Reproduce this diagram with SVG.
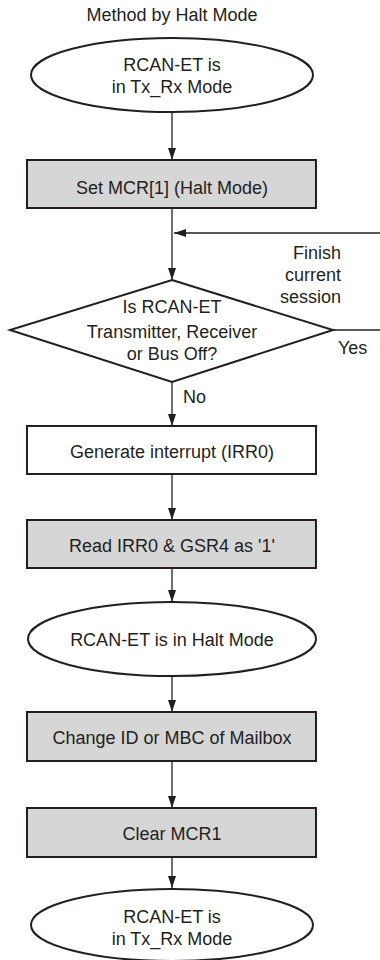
<svg xmlns="http://www.w3.org/2000/svg" width="380" height="960" viewBox="0 0 380 960">
<style>
text{font-family:"Liberation Sans",Arial,sans-serif;font-size:18px;fill:#231f20;text-anchor:middle}
.n{stroke:#231f20;stroke-width:2}
.g{fill:#d6d6d6}
.w{fill:#fff}
.c{stroke:#231f20;stroke-width:1.3;fill:none}
</style>
<defs>
<marker id="ah" viewBox="0 0 12 8" refX="12" refY="4" markerWidth="12" markerHeight="8" markerUnits="userSpaceOnUse" orient="auto">
<path d="M0,0 L12,4 L0,8 Z" fill="#231f20"/>
</marker>
</defs>
<rect width="380" height="960" fill="#fff"/>
<text x="172" y="21">Method by Halt Mode</text>
<g id="connectors">
<line class="c" x1="172" y1="112" x2="172" y2="160" marker-end="url(#ah)"/>
<line class="c" x1="172" y1="208" x2="172" y2="280" marker-end="url(#ah)"/>
<line class="c" x1="380" y1="233" x2="174" y2="233" marker-end="url(#ah)"/>
<line class="c" x1="333" y1="330" x2="380" y2="330"/>
<line class="c" x1="172" y1="382" x2="172" y2="426" marker-end="url(#ah)"/>
<line class="c" x1="172" y1="474" x2="172" y2="520" marker-end="url(#ah)"/>
<line class="c" x1="172" y1="568" x2="172" y2="602" marker-end="url(#ah)"/>
<line class="c" x1="172" y1="676" x2="172" y2="712" marker-end="url(#ah)"/>
<line class="c" x1="172" y1="761" x2="172" y2="808" marker-end="url(#ah)"/>
<line class="c" x1="172" y1="857" x2="172" y2="888" marker-end="url(#ah)"/>
<text x="341" y="259" style="text-anchor:end">Finish</text>
<text x="341" y="281" style="text-anchor:end">current</text>
<text x="341" y="303" style="text-anchor:end">session</text>
<text x="338" y="354" style="text-anchor:start">Yes</text>
<text x="183" y="403" style="text-anchor:start">No</text>
</g>
<g id="start">
<ellipse class="n w" cx="172" cy="75" rx="141" ry="37"/>
<text x="172" y="71">RCAN-ET is</text>
<text x="172" y="93">in Tx_Rx Mode</text>
</g>
<g id="set-mcr">
<rect class="n g" x="27" y="160" width="289" height="48"/>
<text x="172" y="194">Set MCR[1] (Halt Mode)</text>
</g>
<g id="decision">
<polygon class="n w" points="172,280 333,330 172,382 10,330"/>
<text x="172" y="313">Is RCAN-ET</text>
<text x="172" y="338">Transmitter, Receiver</text>
<text x="172" y="360">or Bus Off?</text>
</g>
<g id="gen-int">
<rect class="n w" x="27" y="426" width="289" height="48"/>
<text x="172" y="458">Generate interrupt (IRR0)</text>
</g>
<g id="read-irr">
<rect class="n g" x="27" y="520" width="289" height="48"/>
<text x="172" y="552">Read IRR0 &amp; GSR4 as '1'</text>
</g>
<g id="halt">
<ellipse class="n w" cx="172" cy="639" rx="144" ry="37"/>
<text x="172" y="646">RCAN-ET is in Halt Mode</text>
</g>
<g id="change-id">
<rect class="n g" x="27" y="712" width="289" height="49"/>
<text x="172" y="744">Change ID or MBC of Mailbox</text>
</g>
<g id="clear-mcr">
<rect class="n g" x="27" y="808" width="289" height="49"/>
<text x="172" y="840">Clear MCR1</text>
</g>
<g id="end">
<ellipse class="n w" cx="172" cy="925" rx="141" ry="36"/>
<text x="172" y="923">RCAN-ET is</text>
<text x="172" y="945">in Tx_Rx Mode</text>
</g>
</svg>
